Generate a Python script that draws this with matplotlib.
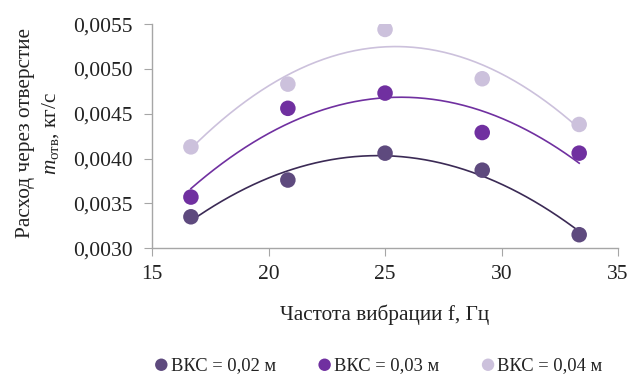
import numpy as np
import matplotlib
matplotlib.use("Agg")
from matplotlib import pyplot as plt
from matplotlib.ticker import FuncFormatter

plt.rcParams['font.family'] = ['Liberation Serif', 'DejaVu Serif']
plt.rcParams['mathtext.fontset'] = 'custom'
plt.rcParams['mathtext.rm'] = 'Liberation Serif'
plt.rcParams['mathtext.it'] = 'Liberation Serif:italic'

# frequency, Hz
freq = [16.67, 20.83, 25.0, 29.17, 33.33]

# flow through the opening, kg/s
m_002 = [0.00335, 0.00376, 0.00406, 0.00387, 0.00315]
m_003 = [0.00357, 0.00456, 0.00473, 0.00429, 0.00406]
m_004 = [0.00413, 0.00483, 0.00544, 0.00489, 0.00438]

labels = ['ВКС = 0,02 м', 'ВКС = 0,03 м', 'ВКС = 0,04 м']
dot_colors = ['#5E4A7E', '#7030A0', '#CCC1DC']
line_colors = ['#3B2A55', '#7030A0', '#CCC1DC']

fig = plt.figure(figsize=(6.32, 3.76), dpi=100)
ax = fig.add_axes([0.2405, 0.34, 0.7375, 0.596])

for y, lab, dc, lc in zip([m_002, m_003, m_004], labels, dot_colors, line_colors):
    # excel-style polynomial trendline, order 2
    c = np.polyfit(freq, y, 2)
    xs = np.linspace(freq[0], freq[-1], 200)
    ax.plot(xs, np.polyval(c, xs), color=lc, lw=1.2, zorder=2)
    ax.scatter(freq, y, s=125, color=dc, label=lab, zorder=3, edgecolors='none')

ax.set_xlim(15, 35)
ax.set_ylim(0.0030, 0.0055)
ax.set_xticks([15, 20, 25, 30, 35])
ax.set_yticks(np.arange(0.0030, 0.00551, 0.0005))
ax.yaxis.set_major_formatter(FuncFormatter(lambda v, p: ('%.4f' % v).replace('.', ',')))

for s in ['top', 'right']:
    ax.spines[s].set_visible(False)
for s in ['left', 'bottom']:
    ax.spines[s].set_color('#A6A6A6')
    ax.spines[s].set_linewidth(1.0)
ax.tick_params(colors='#A6A6A6', labelcolor='#222222', labelsize=15.5, length=6, direction='out')
ax.tick_params(axis='x', pad=6)
ax.tick_params(axis='y', pad=8)

fig.text(0.609, 0.162, 'Частота вибрации f, Гц', ha='center', va='center', fontsize=15.3, color='#222222')
fig.text(0.040, 0.34 + 0.305, 'Расход через отверстие', rotation=90, ha='center', va='center',
         fontsize=15.3, color='#222222')
fig.text(0.080, 0.34 + 0.305, r'$\it{m}_{\rm{отв}}$, кг/с', rotation=90, ha='center', va='center',
         fontsize=15.3, color='#222222')

leg = fig.legend(loc='center', bbox_to_anchor=(0.597, 0.029), ncol=3, frameon=False,
                 fontsize=13.3, handletextpad=0.0, columnspacing=2.15, markerscale=0.8,
                 handlelength=1.0, borderaxespad=0)
for t in leg.get_texts():
    t.set_color('#222222')

fig.savefig('out.png', dpi=100)
